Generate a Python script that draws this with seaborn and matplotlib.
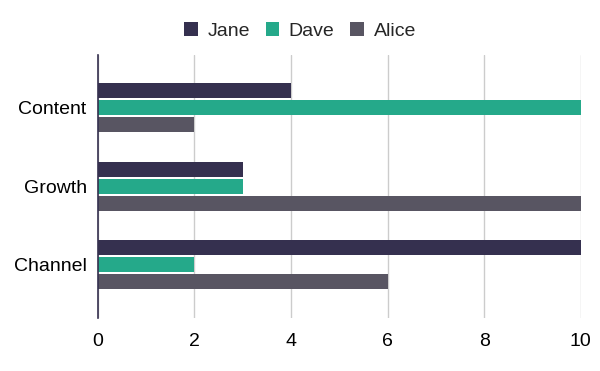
import matplotlib
matplotlib.use("Agg")
import matplotlib.pyplot as plt
import seaborn as sns
import pandas as pd

categories = ["Content", "Growth", "Channel"]
people = ["Jane", "Dave", "Alice"]
jane = [4, 3, 10]
dave = [10, 3, 2]
alice = [2, 10, 6]
colors = ["#35304f", "#25a98a", "#585562"]

df = pd.DataFrame({
    "category": categories * 3,
    "person": [p for p in people for _ in categories],
    "value": jane + dave + alice,
})

sns.set_style("white")
plt.rcParams["font.family"] = ["Liberation Sans", "DejaVu Sans"]

fig = plt.figure(figsize=(6, 3.71), dpi=100)
ax = fig.add_axes([0.163, 0.143, 0.805, 0.709])

sns.barplot(data=df, y="category", x="value", hue="person", order=categories,
            hue_order=people, palette=colors, width=0.65, gap=0.12,
            orient="h", ax=ax, saturation=1, linewidth=0)

ax.set_xlim(0, 10)
ax.set_ylim(2.675, -0.675)
ax.set_xticks([0, 2, 4, 6, 8, 10])
ax.grid(axis="x", color="#cccccc", linewidth=1)
ax.set_axisbelow(True)
for s in ["top", "right", "bottom"]:
    ax.spines[s].set_visible(False)
ax.spines["left"].set_color("#35304f")
ax.spines["left"].set_linewidth(1.2)
ax.tick_params(axis="both", length=0, labelsize=14, colors="black")
ax.tick_params(axis="x", pad=11)
ax.tick_params(axis="y", pad=8)
ax.set_xlabel("")
ax.set_ylabel("")

handles, labels = ax.get_legend_handles_labels()
ax.get_legend().remove()
fig.legend(handles, labels, loc="center", bbox_to_anchor=(0.5, 0.916),
           ncol=3, frameon=False, fontsize=14, handlelength=0.7,
           handleheight=0.7, handletextpad=0.5, columnspacing=0.8)

fig.savefig("out.png", dpi=100)
